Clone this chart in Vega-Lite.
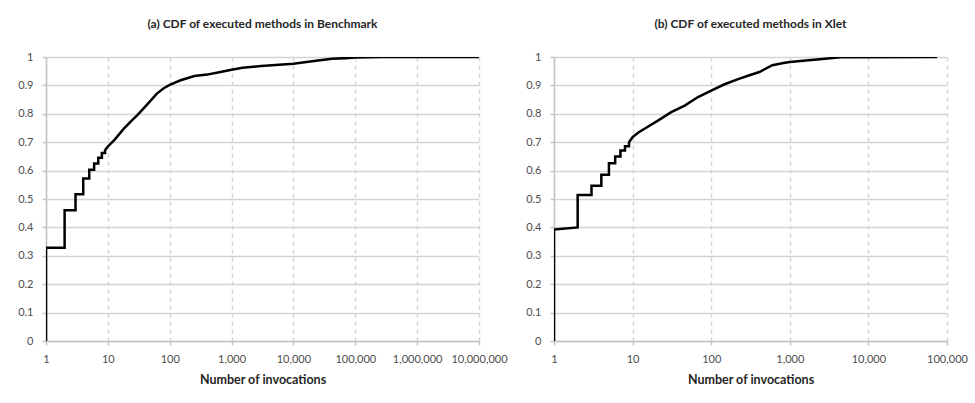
{
  "$schema": "https://vega.github.io/schema/vega-lite/v6.json",
  "background": "white",
  "padding": {"left": 17, "top": 18, "right": 5, "bottom": 5},
  "bounds": "flush",
  "spacing": 75,
  "datasets": {
    "bench": [
      {"n": 1, "cdf": 0}, {"n": 1, "cdf": 0.328}, {"n": 2, "cdf": 0.328}, {"n": 2, "cdf": 0.46},
      {"n": 3, "cdf": 0.46}, {"n": 3, "cdf": 0.517}, {"n": 4, "cdf": 0.517}, {"n": 4, "cdf": 0.572},
      {"n": 5, "cdf": 0.572}, {"n": 5, "cdf": 0.603}, {"n": 6, "cdf": 0.603}, {"n": 6, "cdf": 0.625},
      {"n": 7, "cdf": 0.625}, {"n": 7, "cdf": 0.645}, {"n": 8, "cdf": 0.645}, {"n": 8, "cdf": 0.662},
      {"n": 9, "cdf": 0.662}, {"n": 9, "cdf": 0.672}, {"n": 10, "cdf": 0.685}, {"n": 13, "cdf": 0.71},
      {"n": 18, "cdf": 0.747}, {"n": 24, "cdf": 0.775}, {"n": 30, "cdf": 0.795}, {"n": 43, "cdf": 0.832},
      {"n": 62, "cdf": 0.871}, {"n": 80, "cdf": 0.89}, {"n": 100, "cdf": 0.902}, {"n": 150, "cdf": 0.918},
      {"n": 250, "cdf": 0.933}, {"n": 400, "cdf": 0.938}, {"n": 660, "cdf": 0.947}, {"n": 1000, "cdf": 0.955},
      {"n": 1500, "cdf": 0.962}, {"n": 3000, "cdf": 0.968}, {"n": 10000, "cdf": 0.976}, {"n": 20000, "cdf": 0.985},
      {"n": 42000, "cdf": 0.994}, {"n": 70000, "cdf": 0.996}, {"n": 100000, "cdf": 0.998}, {"n": 280000, "cdf": 1.0},
      {"n": 10000000, "cdf": 1.0}
    ],
    "xlet": [
      {"n": 1, "cdf": 0}, {"n": 1, "cdf": 0.393}, {"n": 2, "cdf": 0.4}, {"n": 2, "cdf": 0.514},
      {"n": 3, "cdf": 0.514}, {"n": 3, "cdf": 0.547}, {"n": 4, "cdf": 0.547}, {"n": 4, "cdf": 0.585},
      {"n": 5, "cdf": 0.585}, {"n": 5, "cdf": 0.626}, {"n": 6, "cdf": 0.626}, {"n": 6, "cdf": 0.65},
      {"n": 7, "cdf": 0.65}, {"n": 7, "cdf": 0.671}, {"n": 8, "cdf": 0.671}, {"n": 8, "cdf": 0.686},
      {"n": 9, "cdf": 0.686}, {"n": 9, "cdf": 0.7}, {"n": 10, "cdf": 0.718}, {"n": 12, "cdf": 0.735},
      {"n": 16, "cdf": 0.756}, {"n": 21, "cdf": 0.776}, {"n": 31, "cdf": 0.806}, {"n": 46, "cdf": 0.829},
      {"n": 68, "cdf": 0.859}, {"n": 100, "cdf": 0.882}, {"n": 148, "cdf": 0.904}, {"n": 220, "cdf": 0.922},
      {"n": 300, "cdf": 0.935}, {"n": 410, "cdf": 0.947}, {"n": 600, "cdf": 0.971}, {"n": 830, "cdf": 0.979},
      {"n": 1000, "cdf": 0.982}, {"n": 1600, "cdf": 0.988}, {"n": 2400, "cdf": 0.992}, {"n": 4400, "cdf": 0.999},
      {"n": 75000, "cdf": 1.0}
    ]
  },
  "config": {
    "font": "Lato",
    "view": {"stroke": null},
    "axis": {
      "gridColor": "#d4d4d4", "gridWidth": 1.5,
      "domainColor": "#c4c4c4", "domainWidth": 1.5,
      "tickColor": "#c4c4c4", "tickSize": 4, "tickWidth": 1.5,
      "labelColor": "#4d4d4d", "labelFontSize": 11, "labelFont": "Lato",
      "titleFontSize": 12.5, "titleColor": "#262626", "titleFontWeight": "bold", "titleFont": "Lato"
    },
    "axisX": {"gridDash": [4, 4], "labelPadding": 8, "titlePadding": 9, "labelFlush": false, "labelOverlap": false},
    "axisY": {"labelPadding": 9},
    "title": {"fontSize": 12, "fontWeight": "bold", "color": "#262626", "font": "Lato", "offset": 20}
  },
  "hconcat": [
    {
      "title": "(a) CDF of executed methods in Benchmark",
      "width": 433,
      "height": 284,
      "data": {"name": "bench"},
      "mark": {"type": "line", "color": "black", "strokeWidth": 2.5, "strokeJoin": "miter", "clip": true},
      "encoding": {
        "x": {
          "field": "n", "type": "quantitative",
          "scale": {"type": "log", "domain": [1, 10000000], "nice": false},
          "axis": {"title": "Number of invocations", "values": [1, 10, 100, 1000, 10000, 100000, 1000000, 10000000], "format": ",d"}
        },
        "y": {
          "field": "cdf", "type": "quantitative",
          "scale": {"domain": [0, 1], "nice": false},
          "axis": {"title": null, "values": [0, 0.1, 0.2, 0.3, 0.4, 0.5, 0.6, 0.7, 0.8, 0.9, 1], "format": ".1~f"}
        },
        "order": {"value": null}
      }
    },
    {
      "title": "(b) CDF of executed methods in Xlet",
      "width": 393,
      "height": 284,
      "data": {"name": "xlet"},
      "mark": {"type": "line", "color": "black", "strokeWidth": 2.5, "strokeJoin": "miter", "clip": true},
      "encoding": {
        "x": {
          "field": "n", "type": "quantitative",
          "scale": {"type": "log", "domain": [1, 100000], "nice": false},
          "axis": {"title": "Number of invocations", "values": [1, 10, 100, 1000, 10000, 100000], "format": ",d"}
        },
        "y": {
          "field": "cdf", "type": "quantitative",
          "scale": {"domain": [0, 1], "nice": false},
          "axis": {"title": null, "values": [0, 0.1, 0.2, 0.3, 0.4, 0.5, 0.6, 0.7, 0.8, 0.9, 1], "format": ".1~f"}
        },
        "order": {"value": null}
      }
    }
  ]
}
